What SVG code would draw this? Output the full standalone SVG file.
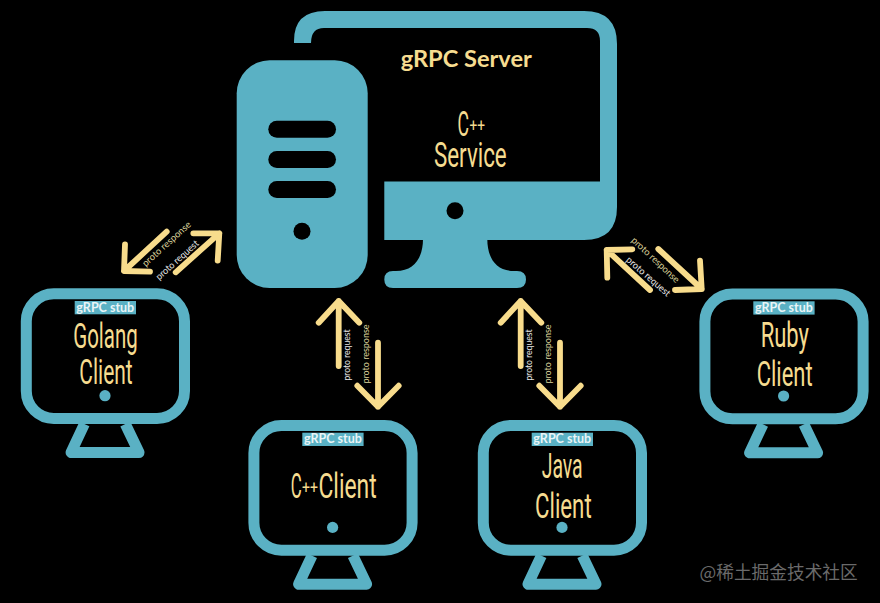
<svg xmlns="http://www.w3.org/2000/svg" width="880" height="603" viewBox="0 0 880 603">
<style>
.bg{fill:#000}
.t{fill:#5AB1C4}
.h{fill:#000}
.scr{fill:none;stroke:#5AB1C4;stroke-width:11}
.arr{fill:none;stroke:#F8DC8C;stroke-width:5.8;stroke-linecap:round;stroke-linejoin:round}
.cond{font-family:"Roboto","Liberation Sans",sans-serif;font-weight:400;font-size:35px;fill:#F6DC90}
.sm{font-size:19px}
.stub{font-family:"Lato","Liberation Sans",sans-serif;font-weight:700;font-size:12.5px;fill:#EAF5F7;text-anchor:middle}
.title{font-family:"Lato","Liberation Sans",sans-serif;font-weight:700;font-size:23.6px;fill:#F6DC90;text-anchor:middle}
.req{font-family:"Lato","Liberation Sans",sans-serif;font-size:9.5px;fill:#E8E8E8;text-anchor:middle}
.res{font-family:"Lato","Liberation Sans",sans-serif;font-size:9.5px;fill:#DDD39C;text-anchor:middle}
.wm{font-family:"Noto Sans CJK SC",sans-serif;font-size:17.7px;fill:#6A6A6A}
</style>
<defs>
<g id="mon">
<rect class="scr" x="26.3" y="293.8" width="158.2" height="124.7" rx="27.5"/>
<path d="M84.4 424L71 452.5H139L125.3 424" fill="none" stroke="#5AB1C4" stroke-width="11" stroke-linejoin="round"/>
<circle class="t" cx="105" cy="395.7" r="5.6"/>
<rect class="t" x="74.7" y="301" width="61.3" height="13.3"/>
<text class="stub" x="105.3" y="311.8">gRPC stub</text>
</g>
</defs>
<rect class="bg" width="880" height="603"/>

<g id="server">
<path class="t" d="M294 43V41Q294 11 325 11H584Q617 11 617 44V207Q617 240 584 240H384.3V181.5H600V41Q600 28 587 28H324Q311 28 311 43Z"/>
<path class="t" d="M423 239C423 258 414 271 396 271H393Q384.3 271 384.3 279.5Q384.3 288 393 288H517Q526 288 526 279.5Q526 271 517 271H514C496 271 487.3 258 487.3 239Z"/>
<circle class="h" cx="455" cy="210.7" r="8.5"/>
<rect class="t" x="236.7" y="60.3" width="131" height="227.7" rx="33"/>
<rect class="h" x="268.3" y="120.7" width="67.7" height="17" rx="8.5"/>
<rect class="h" x="268.3" y="151" width="67.7" height="17" rx="8.5"/>
<rect class="h" x="268.3" y="181" width="67.7" height="17" rx="8.5"/>
<circle class="h" cx="302" cy="231.3" r="8.5"/>
<text class="title" x="466.3" y="66.5">gRPC Server</text>
<text class="cond" x="457.5" y="136" textLength="11.5" lengthAdjust="spacingAndGlyphs">C</text>
<text class="cond sm" x="469.5" y="132" textLength="15.5" lengthAdjust="spacingAndGlyphs">++</text>
<text class="cond" x="434" y="167.3" textLength="72.7" lengthAdjust="spacingAndGlyphs">Service</text>
</g>

<g id="golang-client">
<use href="#mon"/>
<text class="cond" x="73.3" y="347.7" textLength="64.4" lengthAdjust="spacingAndGlyphs">Golang</text>
<text class="cond" x="79.3" y="384.3" textLength="53.4" lengthAdjust="spacingAndGlyphs">Client</text>
</g>
<g id="cpp-client">
<use href="#mon" x="227.6" y="131.7"/>
<text class="cond" x="290.7" y="498.3" textLength="11" lengthAdjust="spacingAndGlyphs">C</text>
<text class="cond sm" x="302" y="494" textLength="16" lengthAdjust="spacingAndGlyphs">++</text>
<text class="cond" x="318.5" y="498.3" textLength="58.2" lengthAdjust="spacingAndGlyphs">Client</text>
</g>
<g id="java-client">
<use href="#mon" x="457" y="131.7"/>
<text class="cond" x="541.7" y="478" textLength="41" lengthAdjust="spacingAndGlyphs">Java</text>
<text class="cond" x="535" y="517.7" textLength="56.7" lengthAdjust="spacingAndGlyphs">Client</text>
</g>
<g id="ruby-client">
<use href="#mon" x="678.6" y="0.3"/>
<text class="cond" x="760.7" y="346.7" textLength="48.3" lengthAdjust="spacingAndGlyphs">Ruby</text>
<text class="cond" x="756.7" y="385.7" textLength="56" lengthAdjust="spacingAndGlyphs">Client</text>
</g>

<g id="connectors">
<path class="arr" d="M166.7 231.7L124 271M125 244.3L124 271L150 271.7"/>
<path class="arr" d="M175.7 272.3L219.3 233.3M193.3 233.3L219.3 233.3L217.7 260.7"/>
<path class="arr" d="M338.7 366V301M318.7 322.7L338.7 301L359.3 322.7"/>
<path class="arr" d="M378 342.7V406.7M357.3 385.7L378 406.7L398.7 385.7"/>
<path class="arr" d="M520.7 366V301M500.7 322.7L520.7 301L541.3 322.7"/>
<path class="arr" d="M560 342.7V406.7M539.3 385.7L560 406.7L580.7 385.7"/>
<path class="arr" d="M650 290L606.7 250M632.3 249.3L606.7 250L607.3 277.7"/>
<path class="arr" d="M658.3 249L701.7 289M700 260.7L701.7 289L675 290"/>
<text class="res" transform="translate(168.7 246.2) rotate(-42)" textLength="62" lengthAdjust="spacingAndGlyphs">proto response</text>
<text class="req" transform="translate(179.3 262.4) rotate(-42)" textLength="54" lengthAdjust="spacingAndGlyphs">proto request</text>
<text class="req" transform="translate(350 355) rotate(-90)" textLength="51" lengthAdjust="spacingAndGlyphs">proto request</text>
<text class="res" transform="translate(369 354) rotate(-90)" textLength="59" lengthAdjust="spacingAndGlyphs">proto response</text>
<text class="req" transform="translate(532 355) rotate(-90)" textLength="51" lengthAdjust="spacingAndGlyphs">proto request</text>
<text class="res" transform="translate(551 354) rotate(-90)" textLength="59" lengthAdjust="spacingAndGlyphs">proto response</text>
<text class="res" transform="translate(653.3 262.2) rotate(43)" textLength="62" lengthAdjust="spacingAndGlyphs">proto response</text>
<text class="req" transform="translate(646.3 278.9) rotate(41)" textLength="55" lengthAdjust="spacingAndGlyphs">proto request</text>
</g>
<text class="wm" x="699.5" y="579">@稀土掘金技术社区</text>
</svg>
